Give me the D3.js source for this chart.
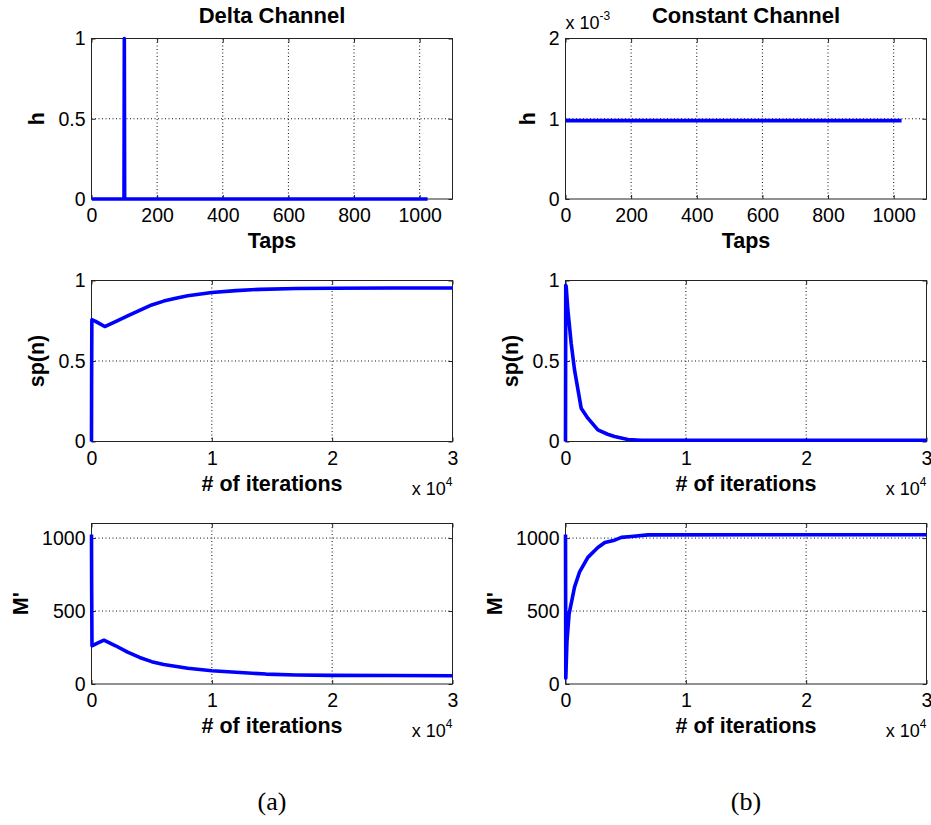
<!DOCTYPE html>
<html>
<head>
<meta charset="utf-8">
<script src="https://cdn.jsdelivr.net/npm/d3@7"></script>
<style>
  body { margin: 0; background: #fff; }
  svg text { font-family: "Liberation Sans", Arial, sans-serif; fill: #000; }
</style>
</head>
<body>
<svg id="fig" width="931" height="825"></svg>
<script>
// tick values
const tapTicks = [0, 200, 400, 600, 800, 1000];
const iterTicks = [0, 10000, 20000, 30000];
const unitTicks = [0, 0.5, 1];
const milliTicks = [0, 0.001, 0.002];
const countTicks = [0, 500, 1000];

// channel impulse responses (polyline vertices)
const hDeltaTaps = [1, 99, 100, 101, 1024];
const hDeltaVals = [0, 0, 1, 0, 0];
const hConstTaps = [1, 1024];
const hConstVals = [0.000977, 0.000977];

// sparseness sp(n)
const spDeltaIter = [0, 10, 30, 300, 600, 1100, 2000, 3000, 4000, 5000, 6000, 7000, 8000, 10000, 12000, 14000, 17000, 20000, 25000, 30000];
const spDeltaVals = [0, 0.38, 0.756, 0.748, 0.735, 0.714, 0.745, 0.78, 0.815, 0.848, 0.872, 0.89, 0.905, 0.925, 0.937, 0.945, 0.95, 0.952, 0.953, 0.953];
const spConstIter = [0, 20, 55, 194, 471, 749, 1303, 1858, 2690, 3500, 4076, 5185, 6300, 30000];
const spConstVals = [0, 0.97, 0.963, 0.818, 0.61, 0.445, 0.207, 0.145, 0.072, 0.045, 0.031, 0.012, 0.008, 0.008];

// M'
const mDeltaIter = [0, 15, 40, 500, 1030, 2000, 3000, 4000, 5000, 6000, 8000, 10000, 12000, 14500, 17000, 20000, 25000, 30000];
const mDeltaVals = [1024, 640, 262, 280, 300, 262, 218, 182, 153, 133, 108, 91, 80, 68, 62, 59, 58, 57];
const mConstIter = [0, 25, 120, 300, 750, 1160, 1860, 2690, 3270, 4080, 4650, 5460, 6850, 30000];
const mConstVals = [1024, 40, 290, 480, 664, 766, 868, 936, 970, 986, 1005, 1011, 1022, 1023];

const svg = d3.select('#fig');
svg.append('rect').attr('width', 931).attr('height', 825).attr('fill', '#fff');

const colL = 91.5, colR = 565.5, axW = 361;

function panel(o) {
  const g = svg.append('g');
  const x = d3.scaleLinear().domain(o.xDomain).range([o.left, o.left + axW]);
  const y = d3.scaleLinear().domain(o.yDomain).range([o.top + o.h, o.top]);
  const bottom = o.top + o.h;

  // dotted grid
  const grid = g.append('g').attr('stroke', '#111').attr('stroke-width', 1)
    .attr('stroke-dasharray', '1,2.5');
  o.xTicks.filter(v => v > o.xDomain[0] && v < o.xDomain[1]).forEach(v => {
    grid.append('line').attr('x1', x(v)).attr('x2', x(v)).attr('y1', o.top).attr('y2', bottom);
  });
  o.yTicks.filter(v => v > o.yDomain[0] && v < o.yDomain[1]).forEach(v => {
    grid.append('line').attr('x1', o.left).attr('x2', o.left + axW).attr('y1', y(v)).attr('y2', y(v));
  });

  // axes with inward ticks
  const xa = g.append('g').attr('transform', `translate(0,${bottom})`)
    .call(d3.axisBottom(x).tickValues(o.xTicks).tickFormat(o.xFmt).tickSize(-4).tickPadding(9.5));
  const ya = g.append('g').attr('transform', `translate(${o.left},0)`)
    .call(d3.axisLeft(y).tickValues(o.yTicks).tickFormat(o.yFmt).tickSize(-4).tickPadding(6));
  g.append('g').attr('transform', `translate(0,${o.top})`)
    .call(d3.axisTop(x).tickValues(o.xTicks).tickFormat('').tickSize(-4));
  g.append('g').attr('transform', `translate(${o.left + axW},0)`)
    .call(d3.axisRight(y).tickValues(o.yTicks).tickFormat('').tickSize(-4));
  g.selectAll('.domain').remove();
  g.selectAll('.tick line').attr('stroke', '#222');
  g.selectAll('.tick text').attr('font-size', 19.5).attr('fill', '#000');
  xa.attr('font-family', null); ya.attr('font-family', null);

  g.append('rect').attr('x', o.left).attr('y', o.top).attr('width', axW).attr('height', o.h)
    .attr('fill', 'none').attr('stroke', '#222').attr('stroke-width', 1);

  // data line
  const line = d3.line().x(d => x(d[0])).y(d => y(d[1]));
  g.append('path').datum(d3.zip(o.xs, o.ys)).attr('d', line)
    .attr('fill', 'none').attr('stroke', '#0000ff').attr('stroke-width', 3.6)
    .attr('stroke-linejoin', 'round');

  // labels
  let maxW = 0;
  ya.selectAll('.tick text').each(function () { maxW = Math.max(maxW, this.getBBox().width); });
  g.append('text')
    .attr('transform', `translate(${o.left - 6 - maxW - 14},${o.top + o.h / 2}) rotate(-90)`)
    .attr('text-anchor', 'middle').attr('font-size', 21.5).attr('font-weight', 'bold')
    .text(o.ylabel);
  g.append('text').attr('x', o.left + axW / 2).attr('y', bottom + 49)
    .attr('text-anchor', 'middle').attr('font-size', 21.5).attr('font-weight', 'bold')
    .text(o.xlabel);
  if (o.title) {
    g.append('text').attr('x', o.left + axW / 2).attr('y', o.top - 15.5)
      .attr('text-anchor', 'middle').attr('font-size', 22).attr('font-weight', 'bold')
      .text(o.title);
  }
  if (o.xExp) {
    const t = g.append('text').attr('x', o.left + axW).attr('y', bottom + 53)
      .attr('text-anchor', 'end').attr('font-size', 18);
    t.append('tspan').text('x 10');
    t.append('tspan').attr('dy', -9).attr('font-size', 12).text(o.xExp);
  }
  if (o.yExp) {
    const t = g.append('text').attr('x', o.left).attr('y', o.top - 10)
      .attr('font-size', 18);
    t.append('tspan').text('x 10');
    t.append('tspan').attr('dy', -9).attr('font-size', 12).text(o.yExp);
  }
}

const fmtInt = d3.format('d');
const fmtUnit = v => (v === 0.5 ? '0.5' : fmtInt(v));
const fmtIter = v => fmtInt(v / 10000);
const fmtMilli = v => fmtInt(Math.round(v * 1000));

panel({left: colL, top: 38.5, h: 160.5, xDomain: [0, 1100], yDomain: [0, 1],
  xTicks: tapTicks, yTicks: unitTicks, xFmt: fmtInt, yFmt: fmtUnit,
  xs: hDeltaTaps, ys: hDeltaVals, xlabel: 'Taps', ylabel: 'h', title: 'Delta Channel'});
panel({left: colR, top: 38.5, h: 160.5, xDomain: [0, 1100], yDomain: [0, 0.002],
  xTicks: tapTicks, yTicks: milliTicks, xFmt: fmtInt, yFmt: fmtMilli,
  xs: hConstTaps, ys: hConstVals, xlabel: 'Taps', ylabel: 'h', title: 'Constant Channel', yExp: '-3'});
panel({left: colL, top: 280.5, h: 161, xDomain: [0, 30000], yDomain: [0, 1],
  xTicks: iterTicks, yTicks: unitTicks, xFmt: fmtIter, yFmt: fmtUnit,
  xs: spDeltaIter, ys: spDeltaVals, xlabel: '# of iterations', ylabel: 'sp(n)', xExp: '4'});
panel({left: colR, top: 280.5, h: 161, xDomain: [0, 30000], yDomain: [0, 1],
  xTicks: iterTicks, yTicks: unitTicks, xFmt: fmtIter, yFmt: fmtUnit,
  xs: spConstIter, ys: spConstVals, xlabel: '# of iterations', ylabel: 'sp(n)', xExp: '4'});
panel({left: colL, top: 523.5, h: 160.5, xDomain: [0, 30000], yDomain: [0, 1100],
  xTicks: iterTicks, yTicks: countTicks, xFmt: fmtIter, yFmt: fmtInt,
  xs: mDeltaIter, ys: mDeltaVals, xlabel: '# of iterations', ylabel: "M'", xExp: '4'});
panel({left: colR, top: 523.5, h: 160.5, xDomain: [0, 30000], yDomain: [0, 1100],
  xTicks: iterTicks, yTicks: countTicks, xFmt: fmtIter, yFmt: fmtInt,
  xs: mConstIter, ys: mConstVals, xlabel: '# of iterations', ylabel: "M'", xExp: '4'});

// sub-figure captions
[['(a)', colL + axW / 2], ['(b)', colR + axW / 2]].forEach(([s, cx]) => {
  svg.append('text').attr('x', cx).attr('y', 810).attr('text-anchor', 'middle')
    .attr('font-size', 26).style('font-family', '"Liberation Serif", "Times New Roman", serif')
    .text(s);
});
</script>
</body>
</html>
